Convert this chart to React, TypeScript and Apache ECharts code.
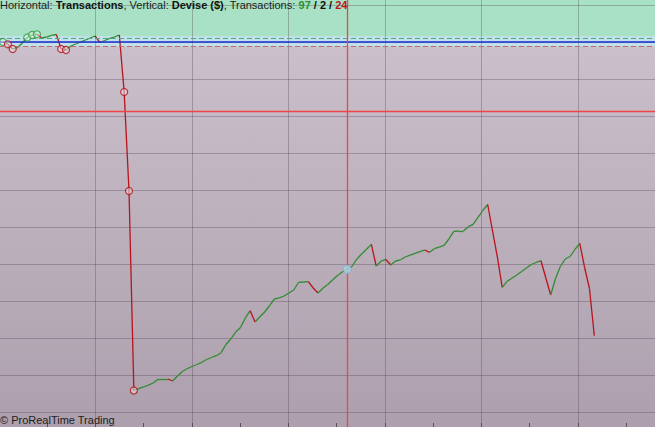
import React, { useEffect, useRef } from "react";
import * as echarts from "echarts";

// Equity (profit in $) after each transaction
const equity = [
  0, -62, -189, -149, -27, 122, 189, 208, 108, 135,
  176, 203, -189, -216, -108, -54, 0, 54, 108, 162,
  -14, 41, 95, 135, 189, -1351, -4027, -9419, -9370, -9324,
  -9276, -9216, -9114, -9108, -9108, -9162, -9027, -8905, -8832, -8770,
  -8716, -8657, -8581, -8527, -8478, -8397, -8176, -8027, -7838, -7716,
  -7459, -7262, -7568, -7427, -7297, -7122, -6946, -6914, -6865, -6784,
  -6703, -6494, -6486, -6478, -6649, -6784, -6654, -6554, -6432, -6311,
  -6216, -6143, -6068, -5865, -5730, -5603, -5470, -6054, -5924, -5878,
  -6027, -5919, -5886, -5811, -5762, -5714, -5668, -5622, -5684, -5586,
  -5541, -5495, -5324, -5116, -5108, -5108, -4992, -4927, -4743, -4554,
  -4392, -5108, -5811, -6630, -6468, -6386, -6297, -6203, -6108, -6014,
  -5959, -5911, -6378, -6838, -6392, -6068, -5865, -5797, -5608, -5441,
  -6095, -6662, -7938,
];
const greenCircleIdx = [0, 5, 6, 7];
const redCircleIdx = [1, 2, 12, 13, 25, 26, 27];
const hoverIdx = 71;
const cursorLevel = -1865;
const capitalLevel = 0;
const upperLevel = 108;
const lowerLevel = -116;
const bandTop = 162;
const winners = 97;
const neutrals = 2;
const losers = 24;

const X_MIN = -0.825;
const X_MAX = 134.52;
const Y_MIN = -11000;
const Y_MAX = 2000;

const GREEN = "#2f8c2f";
const RED = "#b8141c";
const CURSOR = "#f24444";
const GRID = "rgba(80,60,80,0.33)";
const FONT = '"Liberation Sans", Arial, sans-serif';

export default function App() {
  const ref = useRef<HTMLDivElement>(null);
  useEffect(() => {
    if (!ref.current) return;
    const chart = echarts.init(ref.current, undefined, { renderer: "svg" });

    const segs = [] as any[];
    for (let i = 0; i < equity.length - 1; i++) {
      const up = equity[i + 1] >= equity[i];
      segs.push({
        coords: [
          [i, equity[i]],
          [i + 1, equity[i + 1]],
        ],
        lineStyle: { color: up ? GREEN : RED },
      });
    }
    const cursorLines = [
      { coords: [[hoverIdx, Y_MIN + 300], [hoverIdx + 0.0001, Y_MAX - 300]], lineStyle: { color: CURSOR, width: 1.3 } },
      { coords: [[X_MIN, cursorLevel], [X_MAX, cursorLevel + 0.01]], lineStyle: { color: CURSOR, width: 1.3 } },
    ];
    const circles = [
      ...greenCircleIdx.map((i) => ({
        value: [i, equity[i]],
        itemStyle: { color: "rgba(235,250,240,0.6)", borderColor: "#2f9a3f", borderWidth: 1.2 },
      })),
      ...redCircleIdx.map((i) => ({
        value: [i, equity[i]],
        itemStyle: { color: "rgba(240,232,240,0.6)", borderColor: "#b0101c", borderWidth: 1.2 },
      })),
      {
        value: [hoverIdx, equity[hoverIdx]],
        symbolSize: 8,
        itemStyle: { color: "#a9d3e4", borderColor: "#7fb2c8", borderWidth: 1 },
      },
    ];

    chart.setOption({
      animation: false,
      backgroundColor: "#c0b3c0",
      graphic: [
        {
          type: "rect",
          left: 0,
          top: 0,
          z: -10,
          silent: true,
          shape: { width: 655, height: 427 },
          style: {
            fill: new echarts.graphic.LinearGradient(0, 0, 0, 1, [
              { offset: 0, color: "#cec3ce" },
              { offset: 1, color: "#ad9fad" },
            ]),
          },
        },
        {
          type: "text",
          left: 0,
          bottom: 2,
          z: 10,
          style: {
            text: "© ProRealTime Trading",
            font: '11px "Liberation Sans", Arial, sans-serif',
            fill: "#1e1e1e",
          },
        },
      ],
      title: {
        left: 0,
        top: -1,
        padding: 0,
        text:
          "{n|Horizontal: }{b|Transactions}{n|, Vertical: }{b|Devise ($)}{n|, Transactions: }{g|" +
          winners +
          "}{b| / " +
          neutrals +
          " / }{r|" +
          losers +
          "}",
        textStyle: {
          fontFamily: FONT,
          fontSize: 11,
          fontWeight: "normal",
          color: "#1e1e1e",
          rich: {
            n: { fontFamily: FONT, fontSize: 11, color: "#1e1e1e" },
            b: { fontFamily: FONT, fontSize: 11, color: "#111", fontWeight: "bold" },
            g: { fontFamily: FONT, fontSize: 11, color: "#2f8c2f", fontWeight: "bold" },
            r: { fontFamily: FONT, fontSize: 11, color: "#c0141c", fontWeight: "bold" },
          },
        },
      },
      grid: {
        left: -1,
        right: 0,
        top: -32,
        bottom: -22,
        containLabel: false,
        outerBoundsMode: "none",
      },
      xAxis: [
        {
          type: "value",
          min: X_MIN,
          max: X_MAX,
          position: "top",
          show: false,
          axisLine: { onZero: false },
        },
        {
          type: "value",
          min: 0,
          max: 6.798,
          interval: 1,
          position: "bottom",
          offset: -22,
          z: 2,
          axisLine: { show: false, onZero: false },
          axisLabel: { show: false },
          axisTick: { show: true, inside: true, length: 4, lineStyle: { color: "#5a505a" } },
          minorTick: { show: true, splitNumber: 2, length: 4, lineStyle: { color: "#5a505a" } },
          splitLine: { show: true, lineStyle: { color: GRID, width: 1 } },
        },
      ],
      yAxis: {
        type: "value",
        min: Y_MIN,
        max: Y_MAX,
        interval: 1000,
        z: 2,
        axisLine: { show: false },
        axisTick: { show: false },
        axisLabel: { show: false },
        splitLine: { show: true, lineStyle: { color: GRID, width: 1 } },
      },
      series: [
        {
          type: "lines",
          coordinateSystem: "cartesian2d",
          xAxisIndex: 0,
          yAxisIndex: 0,
          z: 3,
          silent: true,
          lineStyle: { width: 1.3, opacity: 1 },
          data: segs,
        },
        {
          type: "lines",
          coordinateSystem: "cartesian2d",
          xAxisIndex: 0,
          yAxisIndex: 0,
          z: 5,
          silent: true,
          lineStyle: { width: 1.3, opacity: 1 },
          data: cursorLines,
        },
        {
          type: "scatter",
          xAxisIndex: 0,
          yAxisIndex: 0,
          z: 6,
          symbol: "circle",
          symbolSize: 7,
          silent: true,
          data: circles,
          markArea: {
            silent: true,
            z: 1,
            data: [
              [
                { yAxis: bandTop, itemStyle: { color: "#a8e1c5" } },
                { yAxis: Y_MAX },
              ],
              [
                { yAxis: lowerLevel, itemStyle: { color: "#c0e1ea" } },
                { yAxis: bandTop },
              ],
            ],
          },
          markLine: {
            silent: true,
            symbol: ["none", "none"],
            label: { show: false },
            data: [
              { yAxis: upperLevel, lineStyle: { color: "#4cb072", type: [5, 3], width: 1 } },
              { yAxis: lowerLevel, lineStyle: { color: "#c06a6a", type: [5, 3], width: 1 } },
              { yAxis: capitalLevel, lineStyle: { color: "#1e2ed0", type: "solid", width: 1.5 } },
            ],
          },
        },
      ],
    });
    return () => chart.dispose();
  }, []);
  return (
    <div
      ref={ref}
      style={{ position: "fixed", left: 0, top: 0, width: 655, height: 427 }}
    />
  );
}
